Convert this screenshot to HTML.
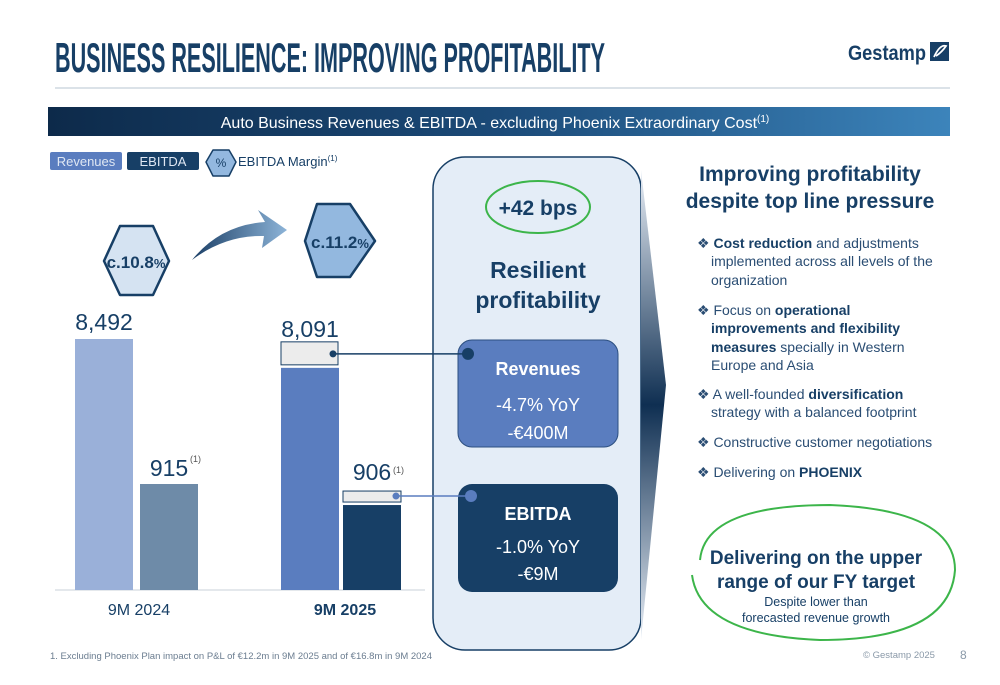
<!DOCTYPE html>
<html><head><meta charset="utf-8"><style>
body{margin:0;width:1000px;height:685px;overflow:hidden;background:#fff;font-family:"Liberation Sans",sans-serif}
svg{position:absolute;left:0;top:0}
</style></head><body>
<svg width="1000" height="685" viewBox="0 0 1000 685">
<defs>
<linearGradient id="ban" x1="0" x2="1"><stop offset="0" stop-color="#0d2a4a"/><stop offset="0.5" stop-color="#1b4a78"/><stop offset="1" stop-color="#3c84bb"/></linearGradient>
<linearGradient id="chev" x1="0" x2="0" y1="0" y2="1"><stop offset="0" stop-color="#e8eef6"/><stop offset="0.5" stop-color="#0f2f52"/><stop offset="1" stop-color="#e8eef6"/></linearGradient>
<linearGradient id="arr" x1="0" x2="1"><stop offset="0" stop-color="#1b3f66"/><stop offset="1" stop-color="#8db4d8"/></linearGradient>
</defs>
<text x="55" y="72" font-family="Liberation Sans Narrow, Liberation Sans, sans-serif" font-weight="bold" font-size="42" fill="#173f66" textLength="550" lengthAdjust="spacingAndGlyphs">BUSINESS RESILIENCE: IMPROVING PROFITABILITY</text>
<g>
<text x="848" y="60" font-weight="bold" font-size="21" fill="#173f66" textLength="78" lengthAdjust="spacingAndGlyphs">Gestamp</text>
<rect x="930" y="42" width="19" height="19" fill="#173f66"/>
<path d="M934 57 Q940 44 946 46 Q942 52 936 56" stroke="#fff" stroke-width="1.8" fill="none"/>
</g>
<line x1="55" y1="88" x2="950" y2="88" stroke="#b7c4d2" stroke-width="1"/>
<rect x="48" y="107" width="902" height="29" fill="url(#ban)"/>
<text x="495" y="128" text-anchor="middle" font-size="16" fill="#fff">Auto Business Revenues &amp; EBITDA - excluding Phoenix Extraordinary Cost<tspan font-size="10" dy="-6">(1)</tspan></text>

<g>
<rect x="50" y="152" width="72" height="18" rx="2" fill="#5a7dbf"/>
<text x="86" y="166" text-anchor="middle" font-size="13" fill="#dfe7f3">Revenues</text>
<rect x="127" y="152" width="72" height="18" rx="2" fill="#173f66"/>
<text x="163" y="166" text-anchor="middle" font-size="13" fill="#dfe7f3">EBITDA</text>
<polygon points="213,150 229,150 236,162 229,176 213,176 206,162" fill="#93b8df" stroke="#173f66" stroke-width="1.5" stroke-linejoin="round"/>
<text x="221" y="167" text-anchor="middle" font-size="12" fill="#173f66">%</text>
<text x="238" y="166" font-size="13" fill="#173f66">EBITDA Margin<tspan font-size="8" dy="-5">(1)</tspan></text>
</g>

<polygon points="120,226 153,226 169,261 153,295 120,295 104,261" fill="#d5e3f2" stroke="#173f66" stroke-width="2.5" stroke-linejoin="round"/>
<text x="136" y="268" text-anchor="middle" font-weight="bold" font-size="17" fill="#173f66">c.10.8<tspan font-size="13">%</tspan></text>
<path d="M192 260 Q220 225 265 222 L258 210 L287 230 L262 248 L264 236 Q225 235 192 260 Z" fill="url(#arr)"/>
<polygon points="317,204 350,204 375,241 350,277 317,277 305,241" fill="#93b8df" stroke="#173f66" stroke-width="2.5" stroke-linejoin="round"/>
<text x="340" y="248" text-anchor="middle" font-weight="bold" font-size="17" fill="#173f66">c.11.2<tspan font-size="13">%</tspan></text>

<rect x="433" y="157" width="208" height="493" rx="32" fill="#e4edf7" stroke="#173f66" stroke-width="1.5"/>
<ellipse cx="538" cy="207" rx="52" ry="26" fill="none" stroke="#3cb54a" stroke-width="2"/>
<text x="538" y="215" text-anchor="middle" font-weight="bold" font-size="21" fill="#173f66">+42 bps</text>
<text x="538" y="278" text-anchor="middle" font-weight="bold" font-size="23" fill="#173f66">Resilient</text>
<text x="538" y="308" text-anchor="middle" font-weight="bold" font-size="23" fill="#173f66">profitability</text>
<rect x="458" y="340" width="160" height="107" rx="14" fill="#5a7dbf" stroke="#2c4f80" stroke-width="1"/>
<text x="538" y="375" text-anchor="middle" font-weight="bold" font-size="18" fill="#fff">Revenues</text>
<text x="538" y="411" text-anchor="middle" font-size="18" fill="#fff">-4.7% YoY</text>
<text x="538" y="439" text-anchor="middle" font-size="18" fill="#fff">-€400M</text>
<rect x="458" y="484" width="160" height="108" rx="14" fill="#173f66"/>
<text x="538" y="520" text-anchor="middle" font-weight="bold" font-size="18" fill="#fff">EBITDA</text>
<text x="538" y="553" text-anchor="middle" font-size="18" fill="#fff">-1.0% YoY</text>
<text x="538" y="580" text-anchor="middle" font-size="18" fill="#fff">-€9M</text>
<polygon points="641,170 666,385 641,640" fill="url(#chev)"/>

<g id="chart"></g>

<g fill="#173f66">
<text x="810" y="181" text-anchor="middle" font-weight="bold" font-size="21">Improving profitability</text>
<text x="810" y="208" text-anchor="middle" font-weight="bold" font-size="21">despite top line pressure</text>
<g font-size="14" fill="#2a4d73">
<text x="697" y="248">❖ <tspan font-weight="bold" fill="#173f66">Cost reduction</tspan> and adjustments</text>
<text x="711" y="266">implemented across all levels of the</text>
<text x="711" y="285">organization</text>
<text x="697" y="315">❖ Focus on <tspan font-weight="bold" fill="#173f66">operational</tspan></text>
<text x="711" y="333" font-weight="bold" fill="#173f66">improvements and flexibility</text>
<text x="711" y="352"><tspan font-weight="bold" fill="#173f66">measures</tspan> specially in Western</text>
<text x="711" y="370">Europe and Asia</text>
<text x="697" y="399">❖ A well-founded <tspan font-weight="bold" fill="#173f66">diversification</tspan></text>
<text x="711" y="417">strategy with a balanced footprint</text>
<text x="697" y="447">❖ Constructive customer negotiations</text>
<text x="697" y="477">❖ Delivering on <tspan font-weight="bold" fill="#173f66">PHOENIX</tspan></text>
</g>
<path d="M700 560 Q705 505 830 505 Q955 510 955 570 Q950 640 820 640 Q700 635 692 575" fill="none" stroke="#3cb54a" stroke-width="2"/>
<text x="816" y="564" text-anchor="middle" font-weight="bold" font-size="19">Delivering on the upper</text>
<text x="816" y="588" text-anchor="middle" font-weight="bold" font-size="19">range of our FY target</text>
<text x="816" y="606" text-anchor="middle" font-size="12.5">Despite lower than</text>
<text x="816" y="622" text-anchor="middle" font-size="12.5">forecasted revenue growth</text>
</g>
<text x="50" y="659" font-size="9.5" fill="#6b7d90">1.    Excluding Phoenix Plan impact on P&amp;L of €12.2m in 9M 2025 and of €16.8m in 9M 2024</text>
<text x="863" y="658" font-size="9.5" fill="#8a99a8">© Gestamp 2025</text>
<text x="960" y="659" font-size="12" fill="#8a99a8">8</text>
</svg>
<script>
const periods=["9M 2024","9M 2025"];
const revenues=[8492,8091];
const ebitda=[915,906];
const revLabels=["8,492","8,091"];
const ebitdaLabels=["915","906"];
const ns="http://www.w3.org/2000/svg";
const g=document.getElementById('chart');
const base=590;
function yRev(v){return base-v*251/8492;}
function yEb(v){return base-v*106/915;}
const groupX=[75,281];
const revColors=["#9ab0d9","#5a7dbf"],ebColors=["#6e8ba8","#173f66"];
function mk(t,a){const e=document.createElementNS(ns,t);for(const k in a)e.setAttribute(k,a[k]);g.appendChild(e);return e;}
const axis=mk('line',{x1:55,y1:base,x2:425,y2:base,stroke:'#c8d0d8','stroke-width':1});


periods.forEach((p,i)=>{
  const x=groupX[i];
  const last=i===periods.length-1;
  let ry=yRev(revenues[i]);
  if(last){
    const gb=mk('rect',{x:x,y:ry-9,width:57,height:23,fill:'#ececec',stroke:'#173f66','stroke-width':1});
    
    
    ry+=17;
  }
  const r=mk('rect',{x:x,y:ry,width:58,height:base-ry,fill:revColors[i]});
  
  
  const rt=mk('text',{x:x+29,y:(last?ry-31:ry-9),'text-anchor':'middle','font-size':23,fill:'#173f66'});
  rt.textContent=revLabels[i];
  
  
  const ex=x+(last?62:65);
  let ey=yEb(ebitda[i]);
  if(last){
    const gb=mk('rect',{x:ex,y:ey+6,width:58,height:11,fill:'#ececec',stroke:'#173f66','stroke-width':1});
    
    
    ey+=20;
  }
  const e=mk('rect',{x:ex,y:ey,width:58,height:base-ey,fill:ebColors[i]});
  
  
  const et=mk('text',{x:ex+29,y:(last?ey-25:ey-8),'text-anchor':'middle','font-size':23,fill:'#173f66'});
  et.textContent=ebitdaLabels[i];
  
  
  const sup=mk('text',{x:ex+50,y:(last?ey-32:ey-22),'font-size':9,fill:'#555'});
  sup.textContent='(1)';
  
  
  const cl=mk('text',{x:x+64,y:615,'text-anchor':'middle','font-size':16,fill:'#173f66','font-weight':last?'bold':'normal'});
  cl.textContent=p;
  
  
  if(last){
    const cy1=ry-17+3;
    const l1=mk('line',{x1:x+52,y1:cy1,x2:468,y2:cy1,stroke:'#173f66','stroke-width':1.5});
    
    
    mk('circle',{cx:x+52,cy:cy1,r:3.5,fill:'#173f66'});
    mk('circle',{cx:468,cy:cy1,r:6,fill:'#173f66'});
    const cy2=ey-20+11;
    const l2=mk('line',{x1:ex+53,y1:cy2,x2:471,y2:cy2,stroke:'#5a7dbf','stroke-width':1.5});
    
    
    mk('circle',{cx:ex+53,cy:cy2,r:3.5,fill:'#5a7dbf'});
    mk('circle',{cx:471,cy:cy2,r:6,fill:'#5a7dbf'});
  }
});
</script>
</body></html>
